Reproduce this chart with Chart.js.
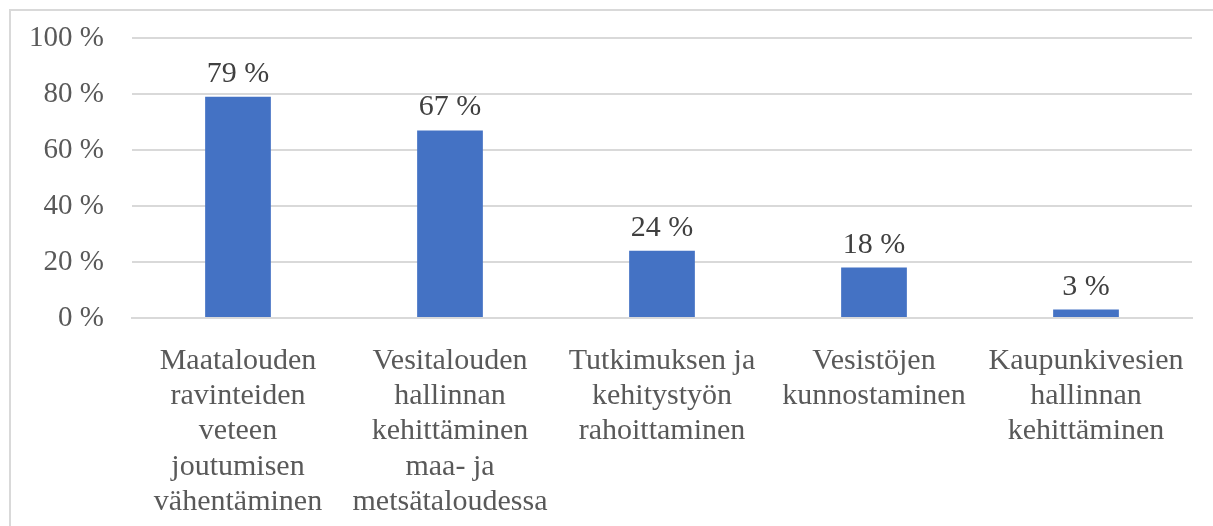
<!DOCTYPE html>
<html>
<head>
<meta charset="utf-8">
<script src="https://cdn.jsdelivr.net/npm/chart.js@4/dist/chart.umd.min.js"></script>
<style>
  body { margin: 0; background: #fff; }
  #wrap { position: relative; width: 1213px; height: 526px; }
  #frame { position: absolute; left: 9px; top: 9px; width: 1220px; height: 540px;
           border-left: 2px solid #d9d9d9; border-top: 2px solid #d9d9d9; box-sizing: border-box; }
  canvas { position: absolute; left: 0; top: 0; }
</style>
</head>
<body>
<div id="wrap">
  <div id="frame"></div>
  <canvas id="chart" width="1213" height="526"></canvas>
</div>
<script>
const categories = [
  ['Maatalouden', 'ravinteiden', 'veteen', 'joutumisen', 'vähentäminen'],
  ['Vesitalouden', 'hallinnan', 'kehittäminen', 'maa- ja', 'metsätaloudessa'],
  ['Tutkimuksen ja', 'kehitystyön', 'rahoittaminen'],
  ['Vesistöjen', 'kunnostaminen'],
  ['Kaupunkivesien', 'hallinnan', 'kehittäminen']
];
const values = [79, 67, 24, 18, 3];
const yTicks = [0, 20, 40, 60, 80, 100];

const textColor = '#595959';
const serif = '"Liberation Serif", "Times New Roman", serif';

// draws the "79 %" style labels above each bar
const valueLabels = {
  id: 'valueLabels',
  afterDatasetsDraw(chart) {
    const ctx = chart.ctx;
    const meta = chart.getDatasetMeta(0);
    ctx.save();
    ctx.font = '30px ' + serif;
    ctx.fillStyle = '#404040';
    ctx.textAlign = 'center';
    ctx.textBaseline = 'alphabetic';
    meta.data.forEach((bar, i) => {
      ctx.fillText(values[i] + ' %', bar.x, bar.y - 15);
    });
    ctx.restore();
  }
};

new Chart(document.getElementById('chart'), {
  type: 'bar',
  data: {
    labels: categories,
    datasets: [{
      data: values,
      backgroundColor: '#4472C4',
      barPercentage: 0.31,
      categoryPercentage: 1
    }]
  },
  options: {
    responsive: false,
    animation: false,
    layout: { padding: { left: 0, right: 21, top: 38, bottom: 0 } },
    plugins: { legend: { display: false }, tooltip: { enabled: false } },
    scales: {
      x: {
        grid: { display: false, drawTicks: false },
        border: { display: true, color: '#d9d9d9', width: 2 },
        ticks: {
          color: textColor,
          font: { family: serif, size: 30, lineHeight: 1.18 },
          padding: 25,
          maxRotation: 0,
          autoSkip: false
        },
        afterFit(scale) { scale.height = 208; scale.paddingLeft = 0; scale.paddingRight = 0; }
      },
      y: {
        min: 0,
        max: 100,
        afterBuildTicks(scale) { scale.ticks = yTicks.map(v => ({ value: v })); },
        grid: { color: '#d9d9d9', lineWidth: 2, drawTicks: false },
        border: { display: false },
        ticks: {
          color: textColor,
          font: { family: serif, size: 29 },
          padding: 28,
          callback: v => v + ' %'
        },
        afterFit(scale) { scale.width = 132; scale.paddingTop = 0; scale.paddingBottom = 0; }
      }
    }
  },
  plugins: [valueLabels]
});
</script>
</body>
</html>
